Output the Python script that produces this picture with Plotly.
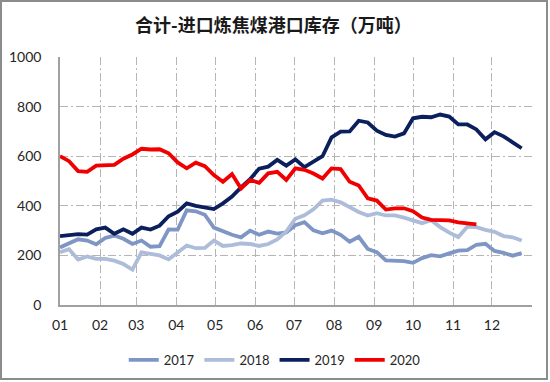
import pandas as pd
import plotly.graph_objects as go

# Weekly port inventory of imported coking coal (10k tonnes)
v2017 = [232, 250, 265, 260, 245, 270, 280, 267, 246, 260, 235, 237, 305, 304, 382, 378,
         364, 312, 297, 283, 273, 300, 283, 296, 288, 293, 322, 334, 301, 289, 300, 283,
         255, 275, 226, 213, 180, 180, 177, 170, 189, 201, 196, 208, 219, 221, 243, 247,
         218, 210, 199, 209]
v2018 = [213, 225, 183, 196, 186, 186, 179, 165, 143, 212, 206, 200, 184, 210, 240, 229,
         230, 260, 238, 241, 248, 246, 238, 246, 264, 296, 348, 362, 386, 421, 425, 414,
         394, 375, 361, 370, 361, 361, 352, 339, 330, 342, 314, 292, 274, 316, 314, 303,
         295, 278, 273, 260]
v2019 = [278, 282, 286, 284, 305, 312, 287, 305, 287, 312, 304, 320, 358, 376, 410, 400,
         395, 387, 410, 437, 474, 507, 550, 558, 585, 562, 587, 556, 578, 600, 676, 699,
         700, 743, 736, 703, 686, 679, 692, 753, 759, 757, 768, 760, 728, 728, 708, 668,
         697, 680, 656, 632]
v2020 = [600, 580, 540, 537, 562, 565, 565, 590, 607, 630, 627, 628, 612, 575, 551, 574,
         560, 524, 497, 528, 470, 504, 493, 531, 537, 504, 551, 545, 530, 510, 551, 548,
         497, 482, 430, 421, 385, 390, 390, 378, 353, 343, 341, 341, 333, 328, 325]

series_names = ["2017", "2018", "2019", "2020"]
series_values = [v2017, v2018, v2019, v2020]
series_colors = ["#7F96C4", "#ADBCD9", "#0A1F5C", "#F00000"]

month_labels = ["01", "02", "03", "04", "05", "06", "07", "08", "09", "10", "11", "12", ""]
month_ticks = pd.date_range("2019-01-01", periods=13, freq="MS")

fig = go.Figure()
for name, vals, col in zip(series_names, series_values, series_colors):
    dates = pd.date_range("2019-01-01", periods=len(vals), freq="7D")
    fig.add_trace(go.Scatter(x=dates, y=vals, mode="lines", name=name,
                             line=dict(color=col, width=3.8)))

L, R, T, B = 60, 18, 57, 77
W, H = 550, 382
pw, ph = W - L - R, H - T - B

grid_dash = "8px,3px,2px,3px"
fig.update_layout(
    width=W, height=H,
    margin=dict(l=L, r=R, t=T, b=B, autoexpand=False),
    paper_bgcolor="white", plot_bgcolor="white",
    title=dict(text="<b>合计-进口炼焦煤港口库存（万吨）</b>", xref="container", x=0.497,
               yref="container", y=1 - 26 / H, yanchor="middle", xanchor="center",
               font=dict(family="Noto Sans CJK SC", size=18, color="#1a1a1a")),
    font=dict(family="Lato, Open Sans, sans-serif", color="#262626"),
    showlegend=True,
    legend=dict(orientation="h", x=0.455, xanchor="center", y=(305 - 360) / ph,
                yanchor="middle", font=dict(size=13, family="Lato"),
                itemwidth=30, tracegroupgap=0),
    xaxis=dict(type="date", range=["2019-01-01", "2020-01-01"], automargin=False,
               tickmode="array", tickvals=month_ticks, ticktext=month_labels,
               showgrid=True, gridcolor="#B5B5B5", gridwidth=1, griddash=grid_dash,
               showline=True, linecolor="#A0A0A0", linewidth=1.5,
               ticks="", ticklabelstandoff=6, tickfont=dict(size=14, color="#262626"),
               zeroline=False),
    yaxis=dict(range=[0, 1000], dtick=200, tick0=0, automargin=False,
               showgrid=True, gridcolor="#B5B5B5", gridwidth=1, griddash=grid_dash,
               showline=True, linecolor="#A0A0A0", linewidth=1.5,
               ticks="", ticklabelstandoff=14, tickfont=dict(size=14, color="#262626"),
               zeroline=False),
)

# outer frame of the chart
fx0, fx1, fy0, fy1 = 1, W - 3, 1, H - 3
fig.add_shape(type="rect", xref="paper", yref="paper",
              x0=(fx0 - L) / pw, x1=(fx1 - L) / pw,
              y0=(H - B - fy1) / ph, y1=(H - B - fy0) / ph,
              line=dict(color="#8C8C8C", width=2), fillcolor="rgba(0,0,0,0)", layer="above")

post = (
    "document.body.style.margin='0';document.body.style.padding='0';"
    "document.body.style.overflow='hidden';"
)

fig.write_html("out.html", post_script=post, config={"displayModeBar": False})
